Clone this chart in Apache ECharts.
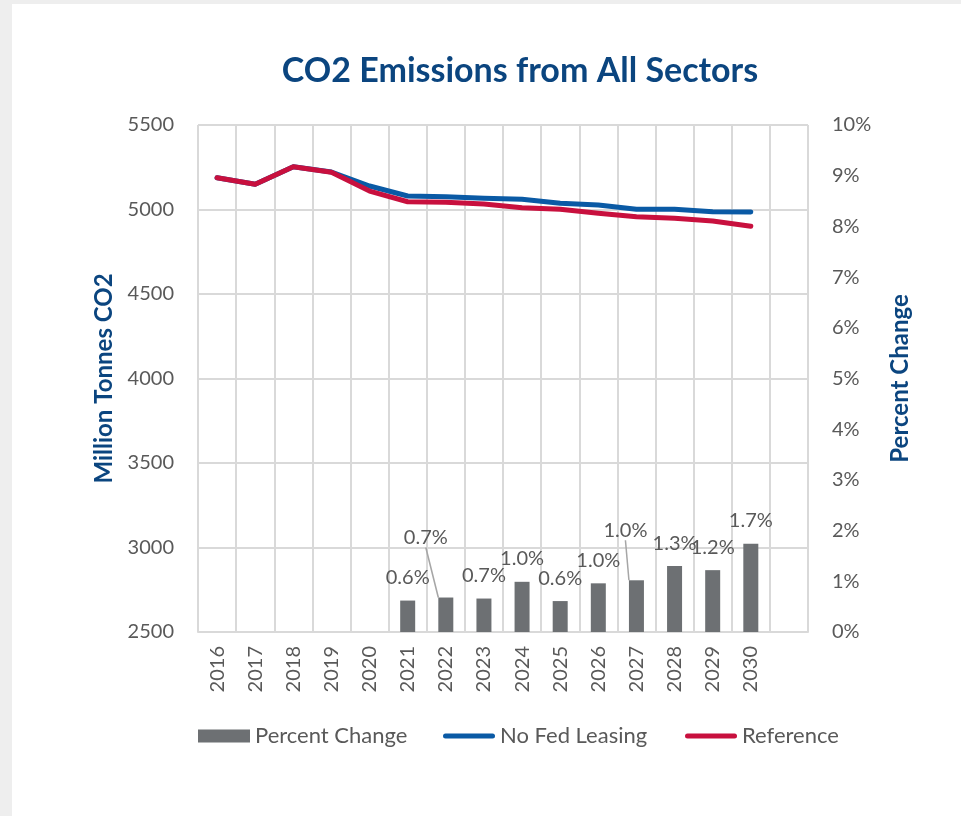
<!DOCTYPE html>
<html>
<head>
<meta charset="utf-8">
<title>CO2 Emissions from All Sectors</title>
<script src="https://cdn.jsdelivr.net/npm/echarts@6/dist/echarts.min.js"></script>
<style>
  html, body { margin: 0; padding: 0; background: #eeeeee; }
  #panel { position: absolute; left: 12px; top: 4px; right: 0; bottom: 0; background: #ffffff; }
  #chart { position: absolute; left: 0; top: 0; width: 961px; height: 816px; }
</style>
</head>
<body>
<div id="panel"></div>
<div id="chart"></div>
<script>
// Years on the category axis (one trailing empty slot keeps the last column open)
const years = ['2016', '2017', '2018', '2019', '2020', '2021', '2022', '2023',
               '2024', '2025', '2026', '2027', '2028', '2029', '2030'];
const categories = years.concat(['']);

// Million tonnes CO2, all sectors
const noFedLeasing = [5188, 5149, 5253, 5222, 5139, 5080, 5076, 5066,
                      5060, 5037, 5027, 5001, 5001, 4987, 4985];
const reference    = [5188, 5149, 5253, 5220, 5109, 5046, 5043, 5033,
                      5011, 5001, 4978, 4957, 4948, 4932, 4901];

// Percent change between the two cases (shown from 2021 on)
const percentChange = [null, null, null, null, null, 0.62, 0.68, 0.66,
                       0.99, 0.61, 0.96, 1.02, 1.30, 1.22, 1.74];

// Years whose value labels sit off the bar with a leader line
const calloutYears = ['2022', '2027'];

// Left and right axis tick settings
const leftTicks = { min: 2500, max: 5500, interval: 500 };
const rightTicks = { min: 0, max: 10, interval: 1 };

const FONT = 'Lato';
const TEXT = '#595959';
const NAVY = '#0b457f';
const GRID = '#d9d9d9';

const chart = echarts.init(document.getElementById('chart'), null, { renderer: 'canvas' });

const legendBase = {
  top: 720,
  itemWidth: 52,
  itemHeight: 13,
  textStyle: { fontFamily: FONT, fontSize: 22, color: TEXT },
  selectedMode: false
};
const lineIcon = 'path://M2.5 0H49.5A2.5 2.5 0 0 1 49.5 5H2.5A2.5 2.5 0 0 1 2.5 0Z';

const barData = percentChange.map((v, i) => v == null ? null : {
  value: v,
  labelLine: { show: calloutYears.indexOf(years[i]) >= 0 }
});

chart.setOption({
  backgroundColor: 'transparent',
  textStyle: { fontFamily: FONT },
  title: {
    text: 'CO2 Emissions from All Sectors',
    left: 515,
    top: 49,
    textAlign: 'center',
    textStyle: { fontFamily: FONT, fontWeight: 'bold', fontSize: 34, color: NAVY }
  },
  legend: [
    Object.assign({}, legendBase, { left: 193, data: [{ name: 'Percent Change', icon: 'rect' }] }),
    Object.assign({}, legendBase, { left: 438, data: [{ name: 'No Fed Leasing', icon: lineIcon }] }),
    Object.assign({}, legendBase, { left: 680, data: [{ name: 'Reference', icon: lineIcon }] })
  ],
  grid: { left: 198, right: 153, top: 125, bottom: 184, containLabel: false },
  xAxis: {
    type: 'category',
    data: categories,
    boundaryGap: true,
    axisLine: { show: true, lineStyle: { color: GRID, width: 2 } },
    axisTick: { show: false },
    axisLabel: {
      interval: 0, rotate: 90, margin: 14,
      fontFamily: FONT, fontSize: 20, color: TEXT
    },
    splitLine: { show: true, interval: 0, lineStyle: { color: GRID, width: 2 } }
  },
  yAxis: [
    {
      type: 'value',
      min: leftTicks.min, max: leftTicks.max, interval: leftTicks.interval,
      name: 'Million Tonnes CO2',
      nameLocation: 'middle',
      nameGap: 82,
      nameTextStyle: { fontFamily: FONT, fontWeight: 'bold', fontSize: 24, color: NAVY },
      axisLine: { show: false },
      axisTick: { show: false },
      axisLabel: { margin: 24, fontFamily: FONT, fontSize: 20, color: TEXT, formatter: v => String(v) },
      splitLine: { show: true, lineStyle: { color: GRID, width: 2 } }
    },
    {
      type: 'value',
      min: rightTicks.min, max: rightTicks.max, interval: rightTicks.interval,
      position: 'right',
      name: 'Percent Change',
      nameLocation: 'middle',
      nameGap: 80,
      nameTextStyle: { fontFamily: FONT, fontWeight: 'bold', fontSize: 24, color: NAVY },
      axisLine: { show: false },
      axisTick: { show: false },
      axisLabel: { margin: 24, fontFamily: FONT, fontSize: 20, color: TEXT, formatter: '{value}%' },
      splitLine: { show: false }
    }
  ],
  series: [
    {
      name: 'Percent Change',
      type: 'bar',
      yAxisIndex: 1,
      data: barData,
      barWidth: 15,
      itemStyle: { color: '#6d7073' },
      label: {
        show: true,
        position: 'top',
        distance: 13,
        fontFamily: FONT,
        fontSize: 20,
        color: TEXT,
        formatter: p => p.value.toFixed(1) + '%'
      },
      labelLine: { show: false, lineStyle: { color: '#a6a6a6', width: 1.5 } },
      labelLayout: function (params) {
        const year = years[params.dataIndex];
        if (year === '2022') return { dx: -20, dy: -37 };
        if (year === '2027') return { dx: -11, dy: -27 };
        return {};
      },
      z: 2
    },
    {
      name: 'No Fed Leasing',
      type: 'line',
      data: noFedLeasing,
      symbol: 'none',
      lineStyle: { color: '#0a5aa5', width: 5, cap: 'round', join: 'round' },
      itemStyle: { color: '#0a5aa5' },
      z: 3
    },
    {
      name: 'Reference',
      type: 'line',
      data: reference,
      symbol: 'none',
      lineStyle: { color: '#c8103e', width: 5, cap: 'round', join: 'round' },
      itemStyle: { color: '#c8103e' },
      z: 4
    }
  ]
});
</script>
</body>
</html>
